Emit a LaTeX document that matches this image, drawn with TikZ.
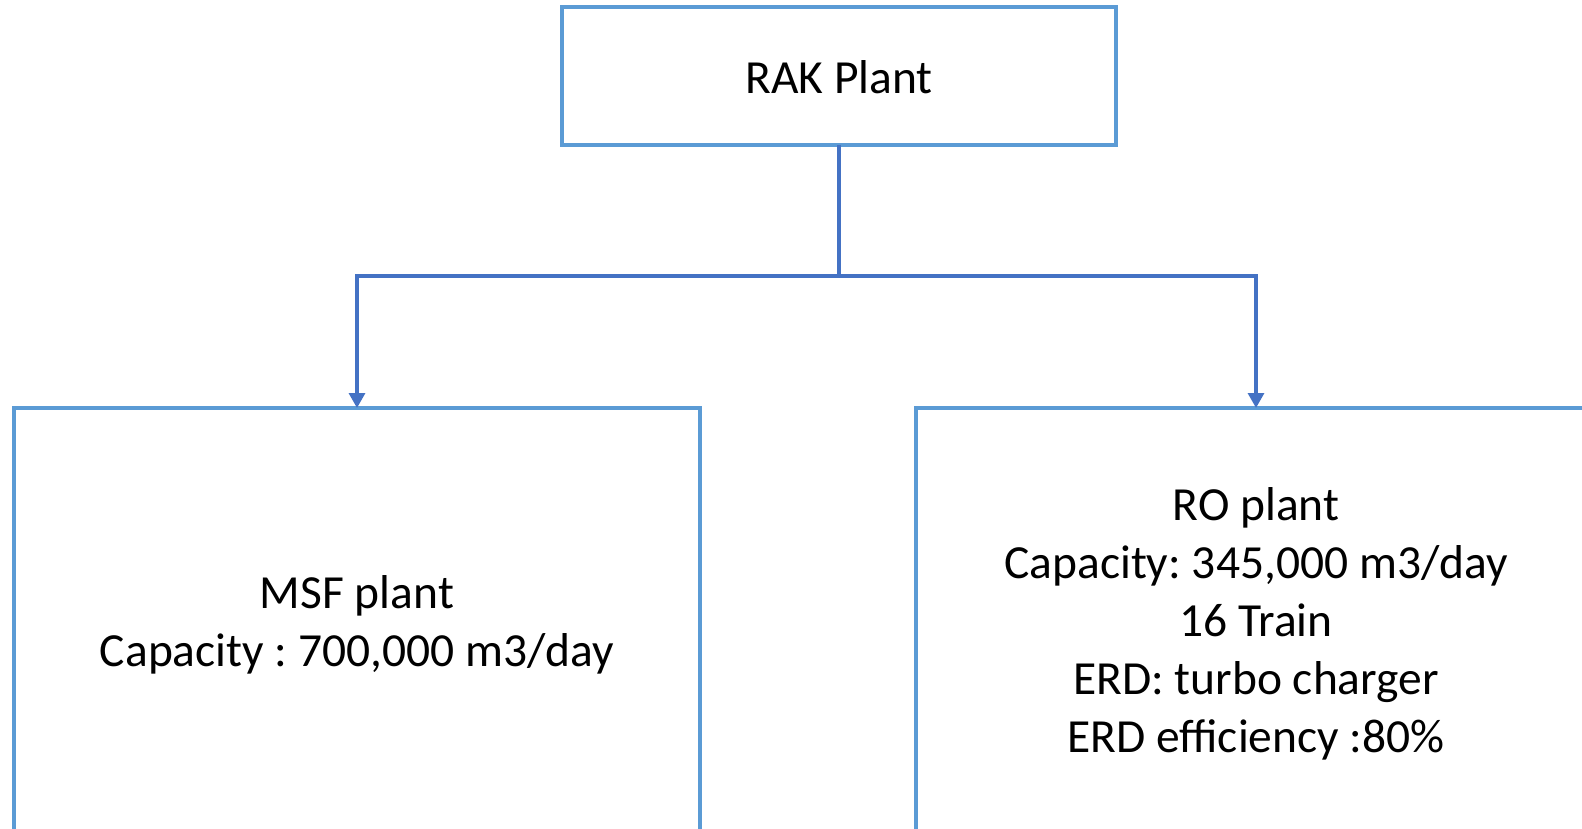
\documentclass[tikz,border=0pt]{standalone}
\usepackage{fontspec}
\setmainfont{Carlito}
\frenchspacing
\usetikzlibrary{arrows.meta}
\definecolor{boxblue}{HTML}{5B9BD5}
\definecolor{linkblue}{HTML}{4472C4}
\tikzset{
  plantbox/.style={draw=boxblue, line width=3.2pt},
  link/.style={draw=linkblue, line width=3.2pt,
    -{Triangle[width=16pt,length=15pt]}},
  label/.style={font=\fontsize{47.5}{58}\selectfont, align=center, inner sep=0pt}
}
\begin{document}
\begin{tikzpicture}[x=1pt,y=1pt]
  \useasboundingbox (0,0) rectangle (1582,-829);
  \clip (0,0) rectangle (1582,-829);
  % top-level plant
  \draw[plantbox] (562,-7) rectangle (1116,-145);
  \node[label] (rak) at (839,-77) {RAK Plant};
  \coordinate (rakb) at (839,-145);
  % sub-plant boxes (run past the lower edge)
  \draw[plantbox] (14,-408) rectangle (700,-900);
  \draw[plantbox] (916,-408) rectangle (1640,-900);
  \coordinate (msft) at (357,-408);
  \coordinate (rot) at (1256,-408);
  \node[label] (msf) at (357,-625) {MSF plant\\Capacity : 700,000 m3/day};
  \node[label] (ro) at (1256,-624) {RO plant\\Capacity: 345,000 m3/day\\16 Train\\ERD: turbo charger\\ERD efficiency :80\%};
  % connectors
  \draw[draw=linkblue, line width=3.2pt] (rakb) -- (839,-276);
  \draw[link] (839,-276) -| (msft);
  \draw[link] (839,-276) -| (rot);
\end{tikzpicture}
\end{document}
